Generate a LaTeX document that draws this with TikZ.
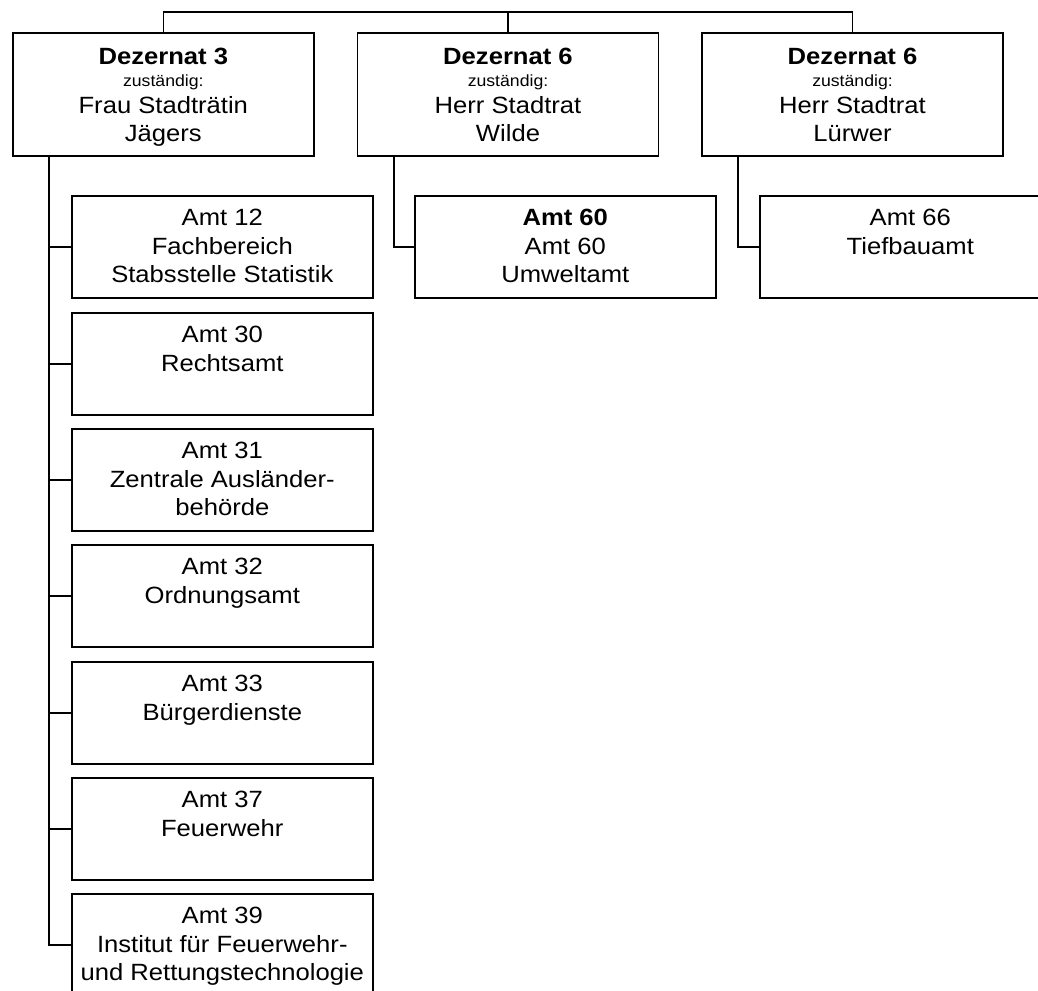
\documentclass[tikz,border=0pt]{standalone}
\usepackage{fontspec}
\setmainfont[FakeStretch=1.09]{Liberation Sans}
\newcommand{\zustfont}{\fontsize{16.2}{19}\selectfont}
\newcommand{\dezbox}[3]{\parbox[t][123pt][t]{301pt}{\centering\rule{0pt}{32pt}\textbf{#1}\\[-6.5pt]{\zustfont zuständig:}\\[-2pt]#2\\#3}}
\newcommand{\amtbox}[1]{\parbox[t][102pt][t]{301pt}{\centering\rule{0pt}{30pt}#1}}
\begin{document}
\begin{tikzpicture}[x=1pt,y=-1pt,line width=1.6pt,
        every node/.style={font=\fontsize{23.5}{28.5}\selectfont},
        dez/.style={draw,inner sep=0pt,anchor=north},
        amt/.style={draw,inner sep=0pt,anchor=north west}]
    \useasboundingbox (0,0) rectangle (1038,990);
    \clip (0,0) rectangle (1038,990);

    \node[dez] (d3) at (163.3,32) {\dezbox{Dezernat 3}{Frau Stadträtin}{Jägers}};
    \node[dez] (d60) at (508,32) {\dezbox{Dezernat 6}{Herr Stadtrat}{Wilde}};
    \node[dez] (d66) at (852.5,32) {\dezbox{Dezernat 6}{Herr Stadtrat}{Lürwer}};
    \coordinate (top) at (508,12);

    \node[amt] (a12) at (71,195) {\amtbox{Amt 12\\Fachbereich\\Stabsstelle Statistik}};
    \node[amt] (a30) at (71,312) {\amtbox{Amt 30\\Rechtsamt}};
    \node[amt] (a31) at (71,428) {\amtbox{Amt 31\\Zentrale Ausländer-\\behörde}};
    \node[amt] (a32) at (71,544) {\amtbox{Amt 32\\Ordnungsamt}};
    \node[amt] (a33) at (71,661) {\amtbox{Amt 33\\Bürgerdienste}};
    \node[amt] (a37) at (71,777) {\amtbox{Amt 37\\Feuerwehr}};
    \node[amt] (a39) at (71,893) {\amtbox{Amt 39\\Institut für Feuerwehr-\\und Rettungstechnologie}};
    \node[amt] (a60) at (414,195) {\amtbox{\textbf{Amt 60}\\Amt 60\\Umweltamt}};
    \node[amt] (a66) at (759,195) {\amtbox{Amt 66\\Tiefbauamt}};

    % Dezernate oben
    \draw (d3.north) |- (top) -| (d66.north); \draw (top) -- (d60.north);

    % Aemter
    \coordinate (t3) at ([xshift=37pt]d3.south west);
    \draw (t3) |- (a39.west);
    \draw (a12.west) -- (a12.west -| t3); \draw (a30.west) -- (a30.west -| t3); \draw (a31.west) -- (a31.west -| t3);
    \draw (a32.west) -- (a32.west -| t3); \draw (a33.west) -- (a33.west -| t3); \draw (a37.west) -- (a37.west -| t3);
    \draw ([xshift=37pt]d60.south west) |- (a60.west);
    \draw ([xshift=37pt]d66.south west) |- (a66.west);
\end{tikzpicture}
\end{document}
